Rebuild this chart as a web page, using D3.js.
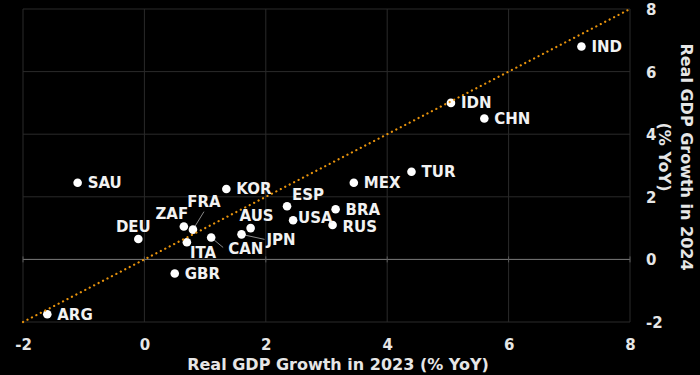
<!DOCTYPE html>
<html>
<head>
<meta charset="utf-8">
<script src="https://cdn.jsdelivr.net/npm/d3@7"></script>
<style>
  html, body { margin: 0; padding: 0; background: #000; }
  svg { display: block; font-family: "DejaVu Sans", sans-serif; font-weight: bold; }
</style>
</head>
<body>
<div id="chart"></div>
<script>
// Real GDP growth, % YoY
var countries  = ["IND", "IDN", "CHN", "TUR", "MEX", "BRA", "RUS", "ESP", "USA", "KOR",
                  "AUS", "JPN", "CAN", "ITA", "FRA", "ZAF", "DEU", "SAU", "GBR", "ARG"];
var growth2023 = [7.2, 5.05, 5.6, 4.4, 3.45, 3.15, 3.1, 2.35, 2.45, 1.35,
                  1.75, 1.6, 1.1, 0.7, 0.8, 0.65, -0.1, -1.1, 0.5, -1.6];
var growth2024 = [6.8, 5.0, 4.5, 2.8, 2.45, 1.6, 1.1, 1.7, 1.25, 2.25,
                  1.0, 0.8, 0.7, 0.55, 0.95, 1.05, 0.65, 2.45, -0.45, -1.75];
var tickValues = [-2, 0, 2, 4, 6, 8];

// label placement (pixels from the dot); default is to the right
var labelPlace = {
  ZAF: {anchor: "middle", dx: -12, dy: -13},
  DEU: {anchor: "middle", dx: -5, dy: -12},
  FRA: {anchor: "middle", dx: 11, dy: -28, leader: [11, -18]},
  ITA: {anchor: "start", dx: 3, dy: 10},
  CAN: {anchor: "start", dx: 17, dy: 11, leader: [12, 10]},
  JPN: {anchor: "start", dx: 25, dy: 5, leader: [23, 5]},
  AUS: {anchor: "middle", dx: 6, dy: -13},
  ESP: {anchor: "start", dx: 5, dy: -12},
  USA: {anchor: "start", dx: 5, dy: -3},
  RUS: {anchor: "start", dx: 10, dy: 2}
};

var W = 700, H = 375;
var x = d3.scaleLinear().domain([-2, 8]).range([23, 630]);
var y = d3.scaleLinear().domain([-2, 8]).range([322, 9]);

var svg = d3.select("#chart").append("svg")
    .attr("width", W)
    .attr("height", H);

svg.append("rect").attr("width", W).attr("height", H).attr("fill", "#000");

// grid
var grid = svg.append("g");
grid.selectAll(".gx")
    .data(tickValues)
    .enter().append("line")
    .attr("x1", function(d) { return x(d); })
    .attr("x2", function(d) { return x(d); })
    .attr("y1", y(8)).attr("y2", y(-2))
    .attr("stroke", "#2a2a2a").attr("stroke-width", 1);
grid.selectAll(".gy")
    .data(tickValues.filter(function(d) { return d !== 0; }))
    .enter().append("line")
    .attr("y1", function(d) { return y(d); })
    .attr("y2", function(d) { return y(d); })
    .attr("x1", x(-2)).attr("x2", x(8))
    .attr("stroke", "#2a2a2a").attr("stroke-width", 1);

// zero line with little ticks
grid.append("line")
    .attr("x1", x(-2)).attr("x2", x(8))
    .attr("y1", y(0)).attr("y2", y(0))
    .attr("stroke", "#7a7a7a").attr("stroke-width", 1);
grid.selectAll(".zt")
    .data(tickValues)
    .enter().append("line")
    .attr("x1", function(d) { return x(d); })
    .attr("x2", function(d) { return x(d); })
    .attr("y1", y(0) - 3).attr("y2", y(0) + 3)
    .attr("stroke", "#5a5a5a").attr("stroke-width", 1);

// axes (ticks only, no domain), plain hyphen for negatives
var fmt = function(d) { return String(d); };
var xAxis = svg.append("g")
    .attr("transform", "translate(0," + 339 + ")")
    .call(d3.axisBottom(x).tickValues(tickValues).tickFormat(fmt).tickSize(0).tickPadding(0));
var yAxis = svg.append("g")
    .attr("transform", "translate(" + 646 + ",0)")
    .call(d3.axisRight(y).tickValues(tickValues).tickFormat(fmt).tickSize(0).tickPadding(0));
[xAxis, yAxis].forEach(function(a) {
  a.select(".domain").remove();
  a.selectAll("text")
      .attr("fill", "#e6e6e6")
      .style("font-family", "DejaVu Sans, sans-serif")
      .style("font-weight", "bold")
      .style("font-size", "15px");
});
yAxis.selectAll("text").attr("dy", "0.36em");

// axis titles
svg.append("text")
    .attr("x", 338).attr("y", 370)
    .attr("text-anchor", "middle")
    .attr("fill", "#e6e6e6")
    .style("font-size", "16px")
    .text("Real GDP Growth in 2023 (% YoY)");

var yt = svg.append("g").attr("transform", "translate(687,157) rotate(90)");
yt.append("text")
    .attr("text-anchor", "middle").attr("dy", "0.36em")
    .attr("fill", "#e6e6e6").style("font-size", "16px")
    .text("Real GDP Growth in 2024");
yt.append("text")
    .attr("y", 22)
    .attr("text-anchor", "middle").attr("dy", "0.36em")
    .attr("fill", "#e6e6e6").style("font-size", "16px")
    .text("(% YoY)");

var points = countries.map(function(c, i) {
  return {name: c, gx: growth2023[i], gy: growth2024[i], place: labelPlace[c] || {anchor: "start", dx: 10, dy: 0}};
});

// leader lines
svg.selectAll(".leader")
    .data(points.filter(function(d) { return d.place.leader; }))
    .enter().append("line")
    .attr("x1", function(d) { return x(d.gx); })
    .attr("y1", function(d) { return y(d.gy); })
    .attr("x2", function(d) { return x(d.gx) + d.place.leader[0]; })
    .attr("y2", function(d) { return y(d.gy) + d.place.leader[1]; })
    .attr("stroke", "#8a8a8a").attr("stroke-width", 1);

// dots
svg.selectAll(".dot")
    .data(points)
    .enter().append("circle")
    .attr("cx", function(d) { return x(d.gx); })
    .attr("cy", function(d) { return y(d.gy); })
    .attr("r", 4.3)
    .attr("fill", "#fff");

// 45 degree line
svg.append("line")
    .attr("x1", x(-2)).attr("y1", y(-2))
    .attr("x2", x(8)).attr("y2", y(8))
    .attr("stroke", "#e8930c")
    .attr("stroke-width", 2.2)
    .attr("stroke-linecap", "round")
    .attr("stroke-dasharray", "0.1,4.9");

// labels
svg.selectAll(".lab")
    .data(points)
    .enter().append("text")
    .attr("x", function(d) { return x(d.gx) + d.place.dx; })
    .attr("y", function(d) { return y(d.gy) + d.place.dy; })
    .attr("dy", "0.36em")
    .attr("text-anchor", function(d) { return d.place.anchor; })
    .attr("fill", "#f2f2f2")
    .style("font-size", "15px")
    .text(function(d) { return d.name; });
</script>
</body>
</html>
